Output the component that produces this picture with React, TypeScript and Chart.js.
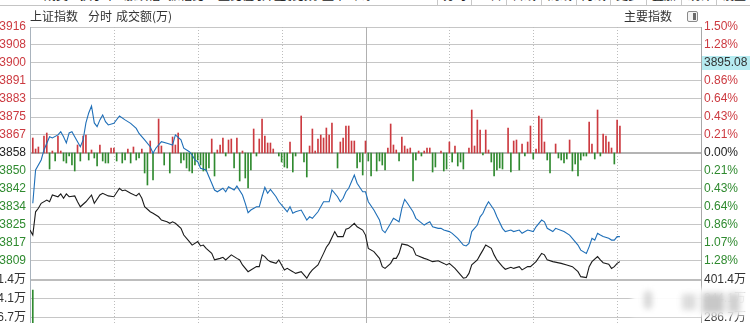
import React, { useEffect, useRef } from "react";
import { Chart, registerables } from "chart.js";
Chart.register(...registerables);

// ---------------- data ----------------
const preClose = 3858.2;
const rowStepPct = 1.5 / 7;

const priceLabels = ["3916", "3908", "3900", "3891", "3883", "3875", "3867", "3858", "3850", "3842", "3834", "3825", "3817", "3809"];
const percentLabels = ["1.50%", "1.28%", "3895.08", "0.86%", "0.64%", "0.43%", "0.21%", "0.00%", "0.21%", "0.43%", "0.64%", "0.86%", "1.07%", "1.28%"];
const volumeTickValues = [286.7, 344.1, 401.4];
const volumeLabels = ["286.7万", "344.1万", "401.4万"];
const timeGridMinutes = [30, 60, 90, 120, 150, 180, 210];

const indexMinutes = [0, 1, 2, 3, 4, 6, 7, 8, 10, 11, 12, 13, 14, 16, 17, 18, 20, 22, 23, 25, 26, 28, 30, 32, 33, 34, 36, 38, 39, 40, 41, 43, 44, 46, 47, 49, 50, 51, 52, 54, 55, 57, 58, 60, 61, 62, 63, 65, 66, 68, 69, 70, 72, 74, 75, 76, 78, 79, 81, 82, 83, 84, 85, 86, 88, 89, 90, 91, 92, 94, 95, 97, 99, 100, 101, 103, 105, 106, 107, 109, 110, 112, 113, 114, 116, 117, 119, 120, 121, 123, 125, 126, 127, 129, 130, 131, 132, 133, 135, 137, 138, 141, 142, 144, 146, 148, 149, 150, 152, 154, 155, 156, 157, 158, 160, 161, 162, 163, 165, 166, 167, 169, 170, 172, 173, 175, 176, 178, 179, 181, 183, 184, 185, 187, 190, 192, 194, 196, 197, 199, 200, 201, 203, 204, 205, 207, 208, 209, 210, 211];
const indexValues = [3822.8, 3820.5, 3831.2, 3832.8, 3835.1, 3836.6, 3835.8, 3838.9, 3838.1, 3839.4, 3837.4, 3839.4, 3838.1, 3838.5, 3835.8, 3833.5, 3835.8, 3838.9, 3835.1, 3838.9, 3839.7, 3838.5, 3838.1, 3842.0, 3840.9, 3841.2, 3839.7, 3838.5, 3839.7, 3837.4, 3833.5, 3831.2, 3830.5, 3828.9, 3827.4, 3826.6, 3825.9, 3826.6, 3825.9, 3823.6, 3820.5, 3817.5, 3815.9, 3817.5, 3815.5, 3815.9, 3814.4, 3812.1, 3809.1, 3809.8, 3810.3, 3809.1, 3811.4, 3809.8, 3809.1, 3806.8, 3803.7, 3804.5, 3806.0, 3806.0, 3811.4, 3810.6, 3809.1, 3808.3, 3807.5, 3809.1, 3806.8, 3804.5, 3805.2, 3803.7, 3802.9, 3803.7, 3800.7, 3802.9, 3804.5, 3806.8, 3812.1, 3814.9, 3816.7, 3822.1, 3819.8, 3819.8, 3823.2, 3823.6, 3825.9, 3824.3, 3822.8, 3820.5, 3814.4, 3812.9, 3809.8, 3806.0, 3805.2, 3807.5, 3809.8, 3809.8, 3812.1, 3816.4, 3815.9, 3814.4, 3811.4, 3809.8, 3809.4, 3808.3, 3808.7, 3807.5, 3806.8, 3807.5, 3805.2, 3802.2, 3800.7, 3801.0, 3802.9, 3806.8, 3809.1, 3811.4, 3813.6, 3815.9, 3814.4, 3811.4, 3809.1, 3806.0, 3804.8, 3805.7, 3805.2, 3806.0, 3804.5, 3806.0, 3806.0, 3808.3, 3812.1, 3811.4, 3809.1, 3808.3, 3807.5, 3806.8, 3806.0, 3803.7, 3801.4, 3801.0, 3806.0, 3808.3, 3810.6, 3809.1, 3807.8, 3807.1, 3805.2, 3806.0, 3807.5, 3808.3];

const avgMinutes = [1, 2, 4, 5, 7, 8, 10, 11, 12, 13, 14, 15, 16, 17, 18, 19, 20, 21, 22, 23, 24, 25, 26, 27, 28, 30, 32, 34, 36, 38, 39, 41, 43, 44, 45, 47, 49, 51, 52, 54, 55, 57, 58, 59, 60, 61, 63, 64, 65, 66, 67, 69, 70, 71, 73, 74, 76, 77, 78, 79, 81, 82, 83, 84, 85, 86, 88, 89, 91, 92, 93, 94, 95, 97, 99, 100, 101, 103, 105, 107, 108, 110, 111, 112, 113, 114, 116, 117, 119, 120, 121, 123, 125, 126, 127, 129, 130, 132, 133, 134, 135, 137, 138, 141, 142, 143, 144, 146, 147, 148, 150, 151, 153, 155, 156, 157, 158, 160, 161, 162, 163, 164, 166, 167, 169, 170, 172, 173, 175, 176, 178, 180, 181, 183, 184, 185, 187, 188, 191, 193, 196, 197, 199, 200, 201, 202, 203, 204, 205, 207, 208, 209, 210, 211];
const avgValues = [3835.1, 3850.4, 3855.0, 3859.6, 3865.7, 3865.1, 3866.5, 3868.0, 3865.7, 3862.8, 3867.4, 3868.0, 3865.7, 3863.4, 3861.1, 3864.2, 3872.0, 3876.6, 3879.8, 3872.0, 3870.3, 3873.4, 3875.7, 3872.6, 3871.1, 3871.8, 3875.2, 3873.4, 3871.8, 3869.5, 3867.2, 3864.2, 3861.1, 3858.1, 3860.4, 3863.4, 3862.7, 3861.9, 3866.5, 3864.2, 3860.4, 3858.8, 3857.3, 3855.0, 3854.2, 3851.2, 3850.4, 3847.3, 3844.3, 3841.2, 3840.4, 3842.0, 3840.4, 3842.7, 3841.2, 3843.0, 3838.9, 3835.1, 3830.8, 3832.0, 3833.5, 3833.5, 3838.1, 3842.4, 3839.7, 3841.5, 3838.1, 3835.8, 3832.8, 3831.2, 3833.5, 3830.5, 3831.2, 3832.0, 3827.4, 3828.9, 3828.2, 3831.2, 3835.8, 3835.8, 3841.2, 3838.1, 3835.8, 3837.4, 3840.4, 3842.0, 3848.1, 3844.3, 3840.4, 3840.4, 3835.8, 3832.0, 3827.4, 3822.8, 3821.6, 3825.9, 3828.2, 3826.6, 3832.8, 3836.9, 3835.1, 3831.2, 3828.2, 3825.1, 3825.9, 3826.6, 3824.3, 3823.6, 3823.6, 3822.8, 3822.1, 3821.3, 3819.0, 3815.9, 3815.5, 3816.7, 3822.1, 3825.1, 3828.9, 3830.5, 3833.5, 3835.8, 3832.0, 3828.9, 3823.6, 3822.1, 3822.8, 3822.1, 3822.8, 3821.3, 3822.8, 3822.1, 3824.3, 3827.4, 3826.6, 3823.6, 3822.1, 3823.6, 3822.1, 3820.5, 3815.9, 3813.6, 3812.1, 3815.2, 3819.0, 3818.2, 3821.3, 3820.5, 3819.8, 3819.0, 3818.2, 3818.2, 3819.8, 3819.8];

const barMinutes = [1, 2, 3, 5, 6, 7, 8, 9, 10, 11, 12, 13, 14, 15, 16, 17, 18, 19, 20, 21, 22, 23, 24, 25, 26, 27, 28, 29, 30, 31, 33, 34, 35, 36, 37, 38, 39, 40, 41, 42, 43, 44, 46, 47, 48, 50, 51, 52, 53, 54, 55, 56, 57, 58, 59, 60, 61, 62, 63, 64, 65, 66, 67, 68, 69, 70, 71, 72, 73, 74, 75, 76, 77, 78, 79, 80, 81, 82, 83, 84, 85, 86, 87, 89, 90, 91, 92, 93, 94, 95, 97, 98, 99, 100, 101, 102, 103, 104, 105, 106, 107, 108, 110, 111, 112, 113, 114, 115, 116, 117, 118, 119, 120, 121, 122, 124, 125, 126, 127, 128, 129, 130, 131, 132, 133, 134, 135, 136, 137, 138, 139, 140, 141, 142, 143, 144, 145, 147, 148, 149, 150, 151, 152, 153, 154, 155, 157, 158, 159, 160, 161, 162, 163, 164, 165, 166, 167, 168, 169, 171, 172, 173, 174, 175, 176, 177, 178, 179, 180, 181, 182, 183, 184, 185, 186, 188, 189, 190, 191, 192, 193, 194, 195, 196, 197, 198, 199, 200, 201, 202, 203, 204, 205, 206, 207, 208, 209, 210, 211];
const barValues = [15, 4, 6, 17, 20, -16, 2, -8, 17, 2, -8, -10, -3, -12, -18, 8, -8, 17, 18, -7, 3, -5, -13, 8, -8, -10, -10, 5, 5, -8, -10, -7, 4, -10, 6, -7, -5, 4, -20, -32, 12, -27, 34, 7, -12, -20, 16, 8, 20, -10, -7, -15, -18, -20, -12, -7, -12, -18, -18, -15, 14, -23, 3, 8, 15, -3, 13, 14, -15, 15, -28, 2, -25, -35, -17, 24, -3, 14, 34, 17, 10, 10, 4, -3, -9, -14, -15, 11, -19, -3, 37, -9, -24, 7, 24, 2, 14, 18, 15, 25, 18, 30, -15, 11, 15, 27, 27, 12, 12, -15, -9, -22, 12, -8, -23, -18, -8, -12, -17, 5, 29, 8, 3, -8, 16, 7, 4, 5, -28, -7, 2, -3, 2, 5, 5, -19, -14, 2, -18, -16, 11, -9, 7, -13, -9, -16, 5, 43, 7, 33, 23, -2, 23, 3, -9, -23, -17, -15, -16, 25, -19, 12, 13, -17, 9, -3, 11, 27, -6, 4, 37, 34, 11, -7, -20, 9, -5, -7, -10, -6, 13, -18, -11, -23, -7, -3, -3, 31, 9, -6, 43, -3, 19, 17, 11, 5, -11, 33, 27];

const volMinutes = [1];
const volValues = [371.0];

// ---------------- style ----------------
const RED = "#cc3a40";
const GREEN = "#2f8a2f";
const DARK = "#222222";
const BLUE = "#1f6fb8";
const GRID = "#c6c6c6";
const FONT = "'Liberation Sans', Arial, 'Noto Sans CJK SC', sans-serif";
const CJK = "'Noto Sans CJK SC', 'Liberation Sans', sans-serif";

const mainTickValues: number[] = [];
for (let k = -7; k <= 7; k++) mainTickValues.push(preClose * (1 + (k * rowStepPct) / 100));
const kOf = (v: number) => Math.round(((v / preClose - 1) * 100) / rowStepPct);

const vgridPlugin = {
  id: "vgrid",
  beforeDatasetsDraw(chart: any) {
    const { ctx, chartArea, scales } = chart;
    const x = scales.x;
    ctx.save();
    ctx.lineWidth = 1;
    for (const m of timeGridMinutes) {
      const px = Math.round(x.getPixelForValue(m)) + 0.5;
      ctx.beginPath();
      ctx.strokeStyle = m === 120 ? "#b0b0b0" : "#bdbdbd";
      ctx.setLineDash(m === 120 ? [] : [1, 2]);
      ctx.moveTo(px, chartArea.top);
      ctx.lineTo(px, chartArea.bottom);
      ctx.stroke();
    }
    ctx.restore();
  },
};

const boxPlugin = {
  id: "pricebox",
  beforeDraw(chart: any) {
    const s = chart.scales.y2;
    if (!s) return;
    const y = s.getPixelForValue(preClose * (1 + (5 * rowStepPct) / 100));
    const { ctx } = chart;
    ctx.save();
    ctx.fillStyle = "#b6ecf1";
    ctx.fillRect(s.left, Math.round(y) - 7, 50, 14);
    ctx.restore();
  },
};

function noPad(s: any, w: number) {
  s.width = w;
  s.paddingTop = 0;
  s.paddingBottom = 0;
}

export default function App() {
  const mainRef = useRef<HTMLCanvasElement>(null);
  const volRef = useRef<HTMLCanvasElement>(null);

  useEffect(() => {
    const labelColor = (ctx: any) => {
      const k = kOf(ctx.tick.value);
      return k > 0 ? RED : k < 0 ? GREEN : DARK;
    };
    const main = new Chart(mainRef.current!, {
      type: "bar",
      data: {
        datasets: [
          {
            type: "bar",
            data: barMinutes.map((m, i) => ({ x: m, y: barValues[i] })),
            backgroundColor: (c: any) => (c.raw && c.raw.y >= 0 ? RED : GREEN),
            barThickness: 1,
            borderWidth: 0,
            xAxisID: "x",
            yAxisID: "yb",
            order: 3,
          } as any,
          {
            type: "line",
            data: avgMinutes.map((m, i) => ({ x: m, y: avgValues[i] })),
            borderColor: BLUE,
            borderWidth: 1.1,
            pointRadius: 0,
            tension: 0,
            xAxisID: "x",
            yAxisID: "y",
            order: 2,
          } as any,
          {
            type: "line",
            data: indexMinutes.map((m, i) => ({ x: m, y: indexValues[i] })),
            borderColor: "#1b1b1b",
            borderWidth: 1.1,
            pointRadius: 0,
            tension: 0,
            xAxisID: "x",
            yAxisID: "y",
            order: 1,
          } as any,
        ],
      },
      options: {
        responsive: false,
        animation: false,
        devicePixelRatio: 1,
        layout: { padding: { top: 27, bottom: 11, left: 0, right: 0 } },
        plugins: { legend: { display: false }, tooltip: { enabled: false } },
        scales: {
          x: { type: "linear", min: 0, max: 240, offset: false, display: false },
          y: {
            type: "linear",
            position: "left",
            min: mainTickValues[0],
            max: mainTickValues[14],
            afterBuildTicks: (s: any) => {
              s.ticks = mainTickValues.map((v) => ({ value: v }));
            },
            afterFit: (s: any) => noPad(s, 30),
            ticks: {
              callback: (v: any) => {
                const i = 7 - kOf(v);
                return i < 14 ? priceLabels[i] : "";
              },
              color: labelColor,
              font: { family: FONT, size: 12 },
              padding: 4,
              autoSkip: false,
            },
            grid: {
              drawTicks: false,
              color: (c: any) => (c.tick && kOf(c.tick.value) === 0 ? "#b4b4b4" : GRID),
              lineWidth: (c: any) => (c.tick && kOf(c.tick.value) === 0 ? 2 : 1),
            },
            border: { display: true, color: "#a9b3bd", width: 1 },
          },
          y2: {
            type: "linear",
            position: "right",
            min: mainTickValues[0],
            max: mainTickValues[14],
            afterBuildTicks: (s: any) => {
              s.ticks = mainTickValues.map((v) => ({ value: v }));
            },
            afterFit: (s: any) => noPad(s, 49),
            ticks: {
              callback: (v: any) => {
                const i = 7 - kOf(v);
                return i < 14 ? percentLabels[i] : "";
              },
              color: (c: any) => (kOf(c.tick.value) === 5 ? "#333333" : labelColor(c)),
              font: { family: FONT, size: 12 },
              padding: 3,
              autoSkip: false,
            },
            grid: { display: false, drawTicks: false },
            border: { display: true, color: "#a8a8a8", width: 1 },
          },
          yb: { type: "linear", min: -126, max: 126, display: false },
        },
      },
      plugins: [vgridPlugin, boxPlugin],
    } as any);

    const vol = new Chart(volRef.current!, {
      type: "bar",
      data: {
        datasets: [
          {
            data: volMinutes.map((m, i) => ({ x: m, y: volValues[i] })),
            backgroundColor: GREEN,
            barThickness: 1,
            borderWidth: 0,
            yAxisID: "yv",
          },
        ],
      },
      options: {
        responsive: false,
        animation: false,
        devicePixelRatio: 1,
        layout: { padding: { top: 10, bottom: 0, left: 0, right: 0 } },
        plugins: { legend: { display: false }, tooltip: { enabled: false } },
        scales: {
          x: { type: "linear", min: 0, max: 240, offset: false, display: false },
          yv: {
            type: "linear",
            position: "left",
            min: 271.6,
            max: 401.4,
            afterBuildTicks: (s: any) => {
              s.ticks = volumeTickValues.map((v) => ({ value: v }));
            },
            afterFit: (s: any) => noPad(s, 30),
            ticks: {
              callback: (_v: any, i: number) => volumeLabels[i],
              color: "#333333",
              font: { family: FONT, size: 12 },
              padding: 4,
              autoSkip: false,
            },
            grid: {
              drawTicks: false,
              color: (c: any) => (c.index === 2 ? "#bdbdbd" : GRID),
              lineWidth: (c: any) => (c.index === 2 ? 2 : 1),
            },
            border: { display: true, color: "#a9b3bd", width: 1 },
          },
          yv2: {
            type: "linear",
            position: "right",
            min: 271.6,
            max: 401.4,
            afterBuildTicks: (s: any) => {
              s.ticks = volumeTickValues.map((v) => ({ value: v }));
            },
            afterFit: (s: any) => noPad(s, 49),
            ticks: {
              callback: (_v: any, i: number) => volumeLabels[i],
              color: "#333333",
              font: { family: FONT, size: 12 },
              padding: 3,
              autoSkip: false,
            },
            grid: { display: false, drawTicks: false },
            border: { display: true, color: "#a8a8a8", width: 1 },
          },
        },
      },
      plugins: [vgridPlugin],
    } as any);

    return () => {
      main.destroy();
      vol.destroy();
    };
  }, []);

  const frag = (left: number, text: string, color = "#222") => (
    <span style={{ position: "absolute", left, top: -12, fontSize: 12, lineHeight: "14px", color, fontFamily: CJK, whiteSpace: "nowrap" }}>{text}</span>
  );

  return (
    <div style={{ position: "fixed", left: 0, top: 0, width: 750, height: 323, overflow: "hidden", background: "#fff" }}>
      {frag(0, "3858.08", RED)}
      {frag(44, "成交", "#222")}
      {frag(80, "换手率", "#222")}
      {frag(124, "涨跌幅", "#222")}
      {frag(168, "振幅比", "#222")}
      {frag(218, "量比值", "#222")}
      {frag(250, "内外盘", "#222")}
      {frag(280, "委比数", "#222")}
      {frag(310, "市盈率", "#222")}
      {frag(350, "市净", "#222")}
      {[437, 471, 506, 541, 576, 610, 646, 681, 716].map((x) => (
        <div key={x} style={{ position: "absolute", left: x, top: 0, width: 1, height: 5, background: "#c8c8c8" }} />
      ))}
      {frag(443, "分时", "#222")}
      {frag(478, "五日", "#222")}
      {frag(512, "日线", "#222")}
      {frag(548, "周线", "#222")}
      {frag(582, "月线", "#222")}
      {frag(616, "更多", "#222")}
      {frag(652, "叠加", "#222")}
      {frag(688, "统计", "#222")}
      {frag(722, "设置", "#222")}
      <div style={{ position: "absolute", left: 0, top: 5, width: 750, height: 1, background: "#c4c4c4" }} />

      <canvas ref={mainRef} width={750} height={290} style={{ position: "absolute", left: 0, top: 0 }} />
      <canvas ref={volRef} width={750} height={53} style={{ position: "absolute", left: 0, top: 270 }} />

      <div style={{ position: "absolute", left: 30, top: 8, fontSize: 12, lineHeight: "16px", color: "#333", fontFamily: CJK, whiteSpace: "nowrap" }}>上证指数</div>
      <div style={{ position: "absolute", left: 88, top: 8, fontSize: 12, lineHeight: "16px", color: "#333", fontFamily: CJK, whiteSpace: "nowrap" }}>分时</div>
      <div style={{ position: "absolute", left: 116, top: 8, fontSize: 12, lineHeight: "16px", color: "#333", fontFamily: CJK, whiteSpace: "nowrap" }}>成交额(万)</div>
      <div style={{ position: "absolute", left: 624, top: 8, fontSize: 12, lineHeight: "16px", color: "#333", fontFamily: CJK, whiteSpace: "nowrap" }}>主要指数</div>
      <div style={{ position: "absolute", left: 687, top: 11, width: 9, height: 9, border: "1px solid #8a8a8a", borderRadius: 2, background: "#f4f4f4" }}>
        <div style={{ position: "absolute", left: 5, top: 1, width: 3, height: 7, background: "#6a6a6a" }} />
      </div>

      <div style={{ position: "absolute", left: 632, top: 288, width: 116, height: 28, background: "rgba(255,255,255,0.92)", filter: "blur(2px)" }}>
        <div style={{ position: "absolute", left: 12, top: 3, width: 8, height: 18, background: "#d6d6d6", borderRadius: 4, filter: "blur(2px)" }} />
        <div style={{ position: "absolute", left: 50, top: 6, width: 14, height: 16, background: "#dcdcdc", filter: "blur(2px)" }} />
        <div style={{ position: "absolute", left: 70, top: 5, width: 22, height: 20, background: "#c8c8c8", filter: "blur(2px)" }} />
        <div style={{ position: "absolute", left: 96, top: 5, width: 12, height: 20, background: "#d0d0d0", filter: "blur(2px)" }} />
      </div>
    </div>
  );
}
